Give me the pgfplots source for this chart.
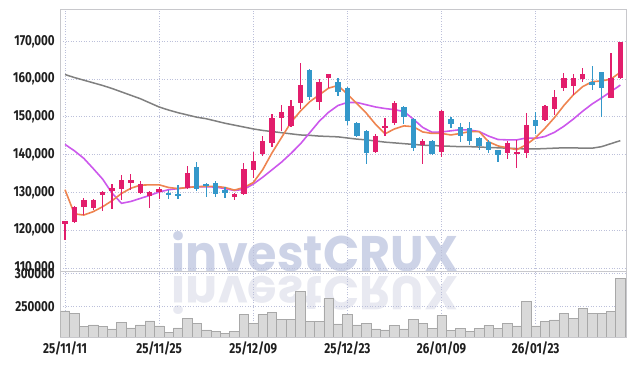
\documentclass[border=0pt]{standalone}
\usepackage{pgfplots}
\pgfplotsset{compat=1.18}
\usepackage{pgfplotstable}
\usepackage{graphicx}
\usepackage{fontspec}
\setmainfont{Fira Sans}
\newfontfamily\tickfont{Fira Sans}[FakeStretch=0.8]
\newfontfamily\wmfont{Poppins}

\definecolor{upred}{RGB}{226,30,108}
\definecolor{downblue}{RGB}{52,152,202}
\definecolor{maA}{RGB}{238,132,80}
\definecolor{maB}{RGB}{204,88,236}
\definecolor{maC}{RGB}{128,128,128}
\definecolor{gridc}{RGB}{188,192,218}
\definecolor{axisc}{RGB}{200,200,204}
\definecolor{volfill}{RGB}{217,217,217}
\definecolor{voldraw}{RGB}{168,168,168}
\definecolor{wm}{RGB}{205,211,231}
\definecolor{wmr}{RGB}{232,233,241}

% up candles: index, open, high, low, close
\pgfplotstableread{
i o h l c
0 121600 122400 117500 122300
1 122200 126400 122000 126200
2 126100 128500 124000 128000
3 125800 128300 125300 128000
4 129200 130450 125000 130200
5 130450 132230 125500 131170
6 130830 134600 128000 133290
7 132400 134870 130640 133300
8 129900 133100 129600 132300
9 129050 130400 125800 130000
10 130000 131500 128170 130830
13 131100 137000 130830 135000
18 128860 129800 128000 129580
19 129600 137700 129310 136200
20 135930 140780 133900 138320
21 140080 145000 139720 143620
22 143000 150680 142100 149620
23 149620 153140 146260 151210
24 147660 154460 147400 152950
25 153590 164180 152080 158430
27 153850 160020 151820 159150
28 160370 161400 157720 161270
33 140600 145460 140510 144930
34 147200 149620 144930 147600
35 148300 154280 147850 153590
38 142470 144060 137520 143700
40 140780 151900 139460 151640
47 140510 143500 138770 143000
48 140200 143880 136400 140500
49 140350 150940 139020 147850
51 149180 153100 148900 152950
52 152080 157110 150500 155340
53 157720 161530 156840 160370
54 158250 161270 155790 160200
55 159940 163000 159300 161350
58 155070 166820 155000 160200
59 160200 169900 160000 169900
}\upT

% down candles
\pgfplotstableread{
i o h l c
11 129800 130600 128200 129500
12 129600 132000 128200 129200
14 136800 138130 130450 130800
15 132200 132600 128700 131700
16 132600 132900 128700 129600
17 130650 131370 128450 129950
26 162400 162670 154460 155340
29 159150 160370 155600 156660
30 157560 158000 147850 148980
31 148450 148720 144750 144930
32 146330 146600 137520 140510
36 152530 152870 148100 149890
37 149350 149800 141040 141670
39 143620 143800 139900 140080
41 149350 150040 146970 148100
42 147230 148300 143430 144930
43 146970 148720 142550 143700
44 144320 144600 141230 142290
45 143430 143900 140350 141230
46 141230 141300 138130 139900
50 149180 151210 145380 147660
56 159300 163540 157110 158430
57 161800 162000 150040 157720
}\downT

% moving averages
\pgfplotstableread{
i a b g
0 130700 142700 161200
1 124300 141000 160400
2 124000 139000 159700
3 124900 136300 159000
4 126200 133500 158300
5 127800 129800 157500
6 129700 127100 156600
7 131100 127600 155700
8 131900 128400 154800
9 132000 129200 153700
10 132000 130100 152600
11 131300 130700 151800
12 131000 131000 151100
13 131300 131300 150500
14 131500 131500 149900
15 131600 131500 149500
16 131600 131400 148900
17 131300 131000 148300
18 130600 130500 147800
19 131300 130800 147300
20 132600 132200 146800
21 136000 134000 146400
22 140500 136000 146100
23 144500 138000 145800
24 148500 140300 145500
25 151500 142800 145200
26 154000 145800 145100
27 155800 148800 144900
28 157600 151200 144800
29 158300 153000 144700
30 156000 153800 144400
31 153500 153800 144100
32 151000 153200 143900
33 148000 152600 143600
34 145500 152200 143300
35 146800 151900 143100
36 147600 151400 142900
37 147400 149400 142700
38 146000 147200 142500
39 145600 145900 142400
40 145600 146000 142300
41 145200 146300 142200
42 145600 146600 142100
43 146100 146500 142100
44 146100 146100 142000
45 143400 144900 141900
46 142300 144000 141800
47 141800 143900 141700
48 141300 143900 141600
49 142600 144400 141500
50 144500 144300 141500
51 147000 144800 141600
52 149800 145900 141700
53 153000 147500 141800
54 155800 149400 141800
55 158000 151500 141700
56 159300 153400 141700
57 159500 155000 142100
58 160000 156700 142900
59 161800 158400 143700
}\maT

% volume
\pgfplotstableread{
i v
0 243400
1 239900
2 219400
3 222000
4 219400
5 215900
6 226100
7 217400
8 222000
9 228100
10 220500
11 210800
12 217400
13 232300
14 224600
15 214400
16 212300
17 209600
18 212300
19 238000
20 224600
21 238000
22 240600
23 230300
24 230300
25 272700
26 227800
27 227800
28 261800
29 223500
30 238400
31 222000
32 224600
33 215900
34 214400
35 221500
36 215900
37 230000
38 224600
39 217000
40 236500
41 214100
42 217000
43 212300
44 217000
45 221500
46 217000
47 223800
48 220500
49 257700
50 220500
51 227800
52 229800
53 239900
54 232300
55 247600
56 239900
57 239900
58 243000
59 293400
}\volT

\pgfplotsset{
  chartbase/.style={
    scale only axis,
    width=565.7pt,
    xmin=-0.5, xmax=59.6,
    axis line style={draw=axisc, line width=0.8pt},
    grid=major,
    major grid style={draw=gridc, line width=0.7pt, dash pattern=on 1pt off 1.6pt},
    major tick length=0pt,
    tick style={draw=none},
    ticklabel style={font=\tickfont\bfseries\fontsize{14.5}{16}\selectfont, text=black!88},
    /pgf/number format/assume math mode=true,
    scaled y ticks=false,
    xtick={0,10,20,30,40,50},
    yticklabel style={xshift=-2pt},
  },
  candlewick/.style={draw=none, mark=none, forget plot,
    error bars/.cd, y dir=both, y explicit, error mark=none,
    error bar style={line width=1.2pt, draw=#1}},
  candlebody/.style={draw=none, mark=none, forget plot,
    error bars/.cd, y dir=both, y explicit, error mark=none,
    error bar style={line width=5.4pt, draw=#1}},
}

\begin{document}
\begin{tikzpicture}
\path (0pt,0pt) rectangle (634pt,366pt);
% watermark and its reflection
\node[anchor=south, inner sep=0pt, text=wm] at (315pt,94pt) {\resizebox{286pt}{40pt}{\wmfont\bfseries investCRUX}};
\node[anchor=south, inner sep=0pt, text=wmr, yscale=-1] at (315pt,90pt) {\resizebox{286pt}{38pt}{\wmfont\bfseries investCRUX}};

% price panel
\begin{axis}[chartbase,
  at={(60.3pt,94.3pt)}, anchor=south west,
  height=262.7pt,
  ymin=109000, ymax=178550,
  ytick={110000,120000,130000,140000,150000,160000,170000},
  yticklabel style={/pgf/number format/.cd, fixed, 1000 sep={,}},
  xticklabels={,,,,,},
]
\addplot [maC, line width=1.5pt] table [x=i, y=g] \maT;
\addplot [maB, line width=1.6pt] table [x=i, y=b] \maT;
\addplot [maA, line width=1.6pt] table [x=i, y=a] \maT;

\addplot [candlewick=upred] table [x=i, y expr={(\thisrow{h}+\thisrow{l})/2}, y error expr={(\thisrow{h}-\thisrow{l})/2}] \upT;
\addplot [candlebody=upred] table [x=i, y expr={(\thisrow{o}+\thisrow{c})/2}, y error expr={max(abs(\thisrow{c}-\thisrow{o})/2,220)}] \upT;
\addplot [candlewick=downblue] table [x=i, y expr={(\thisrow{h}+\thisrow{l})/2}, y error expr={(\thisrow{h}-\thisrow{l})/2}] \downT;
\addplot [candlebody=downblue] table [x=i, y expr={(\thisrow{o}+\thisrow{c})/2}, y error expr={max(abs(\thisrow{c}-\thisrow{o})/2,220)}] \downT;
\end{axis}

% volume panel
\begin{axis}[chartbase,
  at={(60.3pt,29pt)}, anchor=south west,
  height=65.3pt,
  ymin=203700, ymax=303000,
  ytick={250000,300000},
  yticklabel style={/pgf/number format/.cd, fixed, 1000 sep={}},
  xticklabels={25/11/11,25/11/25,25/12/09,25/12/23,26/01/09,26/01/23},
  xticklabel style={yshift=-1pt},
]
\addplot [ybar, bar width=9.415pt, bar shift=0pt, fill=volfill, draw=voldraw, line width=0.6pt] table [x=i, y=v] \volT;
\end{axis}
\end{tikzpicture}
\end{document}
